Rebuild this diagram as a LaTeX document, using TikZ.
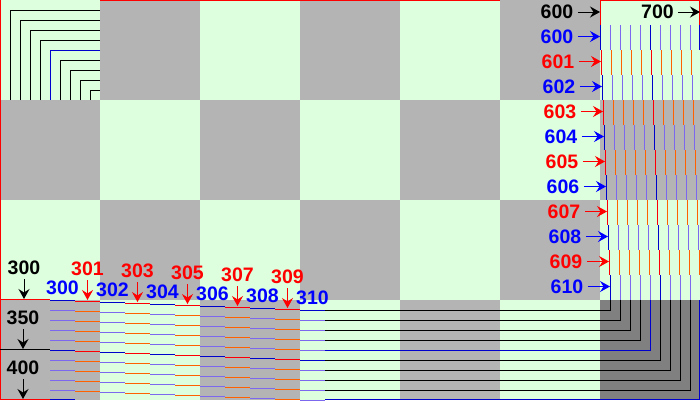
\documentclass[tikz,border=0pt]{standalone}
\usepackage{fontspec}
\setmainfont{Liberation Sans}
\usetikzlibrary{arrows.meta}
\definecolor{paleg}{RGB}{221,255,221}
\definecolor{midgray}{RGB}{180,180,180}
\definecolor{deepgray}{RGB}{128,128,128}
\definecolor{deepblue}{RGB}{0,0,204}
\definecolor{slate}{RGB}{123,104,238}
\definecolor{orng}{RGB}{255,96,0}
\begin{document}
\begin{tikzpicture}[x=1bp, y=-1bp, line width=1bp,
    lbl/.style={font=\fontsize{19.5bp}{20bp}\selectfont\bfseries, inner sep=0pt},
    pointer/.style={-{Stealth[length=10bp,width=11bp,inset=3.5bp]}, shorten <=4bp},
    bluemain/.style={draw=deepblue}, blueside/.style={draw=slate},
    redmain/.style={draw=red}, redside/.style={draw=orng}]
    \useasboundingbox (0,0) rectangle (700,400);
    \foreach \c in {0,...,6}
        \foreach \r in {0,...,3} {
            \pgfmathtruncatemacro\odd{mod(\c+\r,2)}
            \ifnum\odd=0 \def\sqcol{paleg}\else\def\sqcol{midgray}\fi
            \fill[\sqcol] (100*\c,100*\r) rectangle ++(100,100);
        }
    \fill[deepgray] (600,300) rectangle (700,400);
    \foreach \m in {1,2,3,4,6,7,8,9}
        \draw (10*\m+0.5,100) |- (100,10*\m+0.5);
    \draw[bluemain] (50.5,100) |- (100,50.5);
    % blue rows and columns
    \foreach \o in {0,2,...,10} {
        \foreach \k in {1,2,3,4,6,7,8,9} {
            \draw[blueside] (600+\o+10*\k+0.5,25+25*\o) -- ++(0,25);
            \draw[blueside] (50+25*\o,300+\o+10*\k+0.5) -- ++(25,0);
        }
        \foreach \k in {0,5} {
            \draw[bluemain] (600+\o+10*\k+0.5,25+25*\o) -- ++(0,25);
            \draw[bluemain] (50+25*\o,300+\o+10*\k+0.5) -- ++(25,0);
        }
        \pgfmathtruncatemacro\num{600+\o}
        \node[lbl, text=blue] (r\o) at (557+\o,36.5+25*\o) {\num};
        \coordinate (rt\o) at (600+\o,36.5+25*\o);
        \draw[pointer, blue] (r\o) -- (rt\o);
        \pgfmathtruncatemacro\num{300+\o}
        \node[lbl, text=blue] (c\o) at (62.5+25*\o,288+\o) {\num};
    }
    % red rows and columns
    \foreach \o in {1,3,...,9} {
        \foreach \k in {1,2,3,4,6,7,8,9} {
            \draw[redside] (600+\o+10*\k+0.5,25+25*\o) -- ++(0,25);
            \draw[redside] (50+25*\o,300+\o+10*\k+0.5) -- ++(25,0);
        }
        \foreach \k in {0,5} {
            \draw[redmain] (600+\o+10*\k+0.5,25+25*\o) -- ++(0,25);
            \draw[redmain] (50+25*\o,300+\o+10*\k+0.5) -- ++(25,0);
        }
        \pgfmathtruncatemacro\num{600+\o}
        \node[lbl, text=red] (r\o) at (557+\o,36.5+25*\o) {\num};
        \coordinate (rt\o) at (600+\o,36.5+25*\o);
        \draw[pointer, red] (r\o) -- (rt\o);
        \pgfmathtruncatemacro\num{300+\o}
        \node[lbl, text=red] (c\o) at (62.5+25*\o,268+\o) {\num};
        \coordinate (ct\o) at (62.5+25*\o,299+\o);
        \draw[pointer, red] (c\o) -- (ct\o);
    }
    % corner bends
    \foreach \k in {0,1,2,3,5,6,7,8}
        \draw (325,310.5+10*\k) -| (610.5+10*\k,300);
    \draw[bluemain] (325,350.5) -| (650.5,300);
    \draw[bluemain] (50,399.5) -- (75,399.5) (325,399.5) -| (699.5,300);
    \draw[bluemain] (699.5,25) -- (699.5,50);
    \draw[red] (0.5,0) -- (0.5,400);
    \draw[red] (0,299.5) -- (50,299.5);
    \draw[red] (0,399.5) -- (50,399.5);
    \draw[red] (100,0.5) -- (500,0.5);
    \draw[red] (600,0.5) -- (700,0.5);
    \draw[red] (600.5,0) -- (600.5,25);
    \draw[red] (699.5,0) -- (699.5,25);
    \draw (0,349.5) -- (50,349.5);
    \node[lbl] (t600) at (557,12) {600};
    \coordinate (t600e) at (600,12);
    \draw[pointer] (t600) -- (t600e);
    \node[lbl] (t700) at (657.5,12) {700};
    \coordinate (t700e) at (700,12);
    \draw[pointer] (t700) -- (t700e);
    \node[lbl] (l300) at (24,268) {300};
    \coordinate (l300e) at (24,299);
    \draw[pointer] (l300) -- (l300e);
    \node[lbl] (l350) at (23,318) {350};
    \coordinate (l350e) at (23,349);
    \draw[pointer] (l350) -- (l350e);
    \node[lbl] (l400) at (23,368) {400};
    \coordinate (l400e) at (23,399);
    \draw[pointer] (l400) -- (l400e);
\end{tikzpicture}
\end{document}
